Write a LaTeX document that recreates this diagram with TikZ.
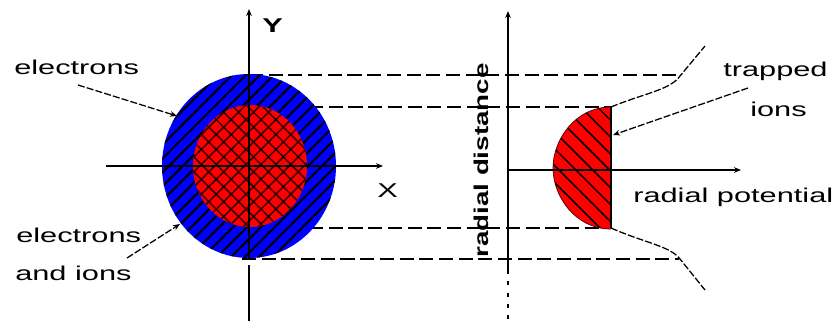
\documentclass[tikz,border=0pt]{standalone}
\usepackage{fontspec}
\setmainfont{Liberation Sans}
\usetikzlibrary{arrows.meta,patterns.meta}
\newcommand{\wtxt}[2][1.54]{\scalebox{#1}[1]{#2}}
\begin{document}
\begin{tikzpicture}[x=0.025cm,y=-0.025cm,
  lbl/.style={inner sep=0pt, font=\fontsize{14.2}{16}\selectfont},
  axis/.style={line width=1pt},
  guide/.style={line width=0.9pt, dash pattern=on 10pt off 4pt},
  leader/.style={line width=0.9pt, dash pattern=on 5pt off 1.5pt},
  tip/.style={-{Stealth[length=5pt,width=4pt]}},
]
\useasboundingbox[fill=white] (0,0) rectangle (840,321);

% coordinates
\coordinate (c) at (249,166);
\coordinate (ci) at (250,166);
\coordinate (g1a) at (249,75);  \coordinate (g1b) at (679,75);
\coordinate (g2a) at (250,107); \coordinate (g2b) at (611,107);
\coordinate (g3a) at (250,228); \coordinate (g3b) at (611,228);
\coordinate (g4a) at (242,259); \coordinate (g4b) at (679,259);

% guide lines (behind the circles)
\draw[guide] (g1a) -- (g1b);
\draw[guide] (g2a) -- (g2b);
\draw[guide] (g3a) -- (g3b);
\draw[guide] (g4a) -- (g4b);

% outer ring: electrons
\fill[blue] (c) ellipse [x radius=87, y radius=92];
\fill[pattern={Lines[angle=45,distance=7pt,line width=1.5pt]}, pattern color=black]
  (c) ellipse [x radius=87, y radius=92];
% inner core: electrons and ions
\fill[red] (ci) ellipse [x radius=57, y radius=61];
\fill[pattern={Hatch[angle=45,distance=7.5pt,line width=1.1pt]}, pattern color=black!80!red]
  (ci) ellipse [x radius=57, y radius=61];

% left axes
\coordinate (ytop) at (249,9);
\coordinate (ybot1) at (249,258);
\coordinate (ybot2a) at (249,265);
\coordinate (ybot2b) at (249,321);
\coordinate (xl) at (106,166);
\coordinate (xr) at (383,166);
\draw[axis,tip] (ybot1) -- (ytop);
\draw[axis] (ybot2a) -- (ybot2b);
\draw[axis,tip] (xl) -- (xr);
\node[lbl, anchor=base west] (ylab) at (262,33) {\wtxt{\bfseries Y}};
\node[lbl, anchor=base west] (xlab) at (377,197) {\wtxt{X}};

% left labels
\node[lbl, anchor=base west] (el1) at (14,75) {\wtxt{electrons}};
\node[lbl, anchor=base west] (el2) at (16,242) {\wtxt{electrons}};
\node[lbl, anchor=base west] (el3) at (15,280) {\wtxt{and ions}};
\coordinate (el1s) at (78,85);
\coordinate (el1e) at (177,116);
\coordinate (el3s) at (127,258);
\coordinate (el3e) at (180,224);
\draw[leader,tip] (el1s) -- (el1e);
\draw[leader,tip] (el3s) -- (el3e);

% right: trapped-ion potential well
\fill[red] (611,107) .. controls (575,107) and (553,140) .. (553,168)
  .. controls (553,196) and (575,229) .. (611,229) -- cycle;
\fill[pattern={Lines[angle=-45,distance=8.5pt,line width=1.1pt]}, pattern color=black]
  (611,107) .. controls (575,107) and (553,140) .. (553,168)
  .. controls (553,196) and (575,229) .. (611,229) -- cycle;
\draw[line width=0.5pt, black!70!red] (611,107) .. controls (575,107) and (553,140) .. (553,168)
  .. controls (553,196) and (575,229) .. (611,229);
\draw[line width=1pt] (g2b) -- (g3b);

% right axes
\coordinate (rtop) at (508,11);
\coordinate (rmid) at (508,270);
\coordinate (rbot) at (508,321);
\coordinate (ho) at (508,170);
\coordinate (hr) at (741,170);
\draw[axis,tip] (rmid) -- (rtop);
\draw[line width=1pt, dash pattern=on 3pt off 5pt] (rmid) -- (rbot);
\draw[axis,tip] (ho) -- (hr);

% potential curves
\coordinate (cu1) at (680,76);
\coordinate (cu2) at (705,46);
\coordinate (cd1) at (680,259);
\coordinate (cd2) at (705,290);
\draw[leader] (g2b) .. controls (645,93) and (670,90) .. (cu1) -- (cu2);
\draw[leader] (g3b) .. controls (645,243) and (670,246) .. (cd1) -- (cd2);

% right labels
\node[lbl, anchor=base west] (trap) at (723,77) {\wtxt{trapped}};
\node[lbl, anchor=base west] (ions) at (750,117) {\wtxt{ions}};
\coordinate (ts) at (748,88);
\coordinate (te) at (613,135);
\draw[leader,tip] (ts) -- (te);
\node[lbl, anchor=base west] (rpot) at (633,202) {\wtxt{radial potential}};
\node[lbl, anchor=base west, rotate=90] (rdist) at (488,258) {\wtxt[1.39]{\bfseries radial distance}};
\end{tikzpicture}
\end{document}
